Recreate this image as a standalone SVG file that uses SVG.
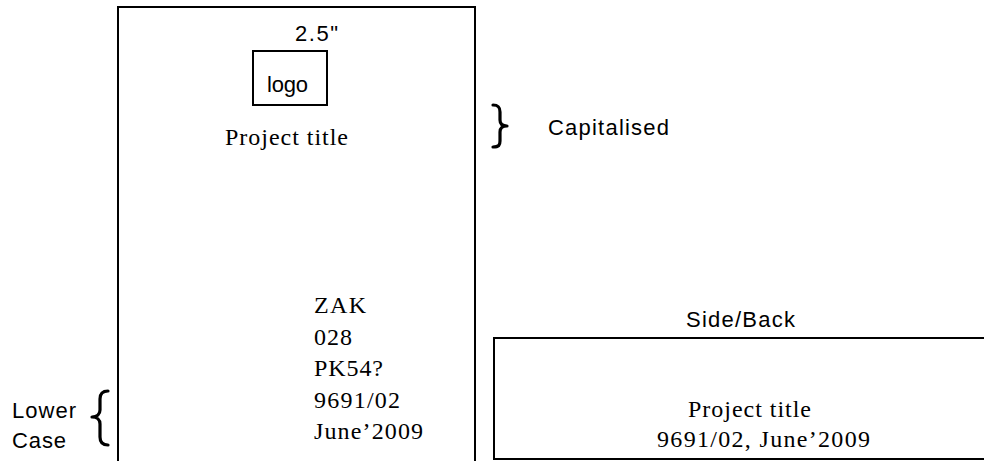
<svg xmlns="http://www.w3.org/2000/svg" width="984" height="461" viewBox="0 0 984 461">
<style>
.box{fill:none;stroke:#000;stroke-width:2}
.brace{fill:none;stroke:#000;stroke-width:3.2;stroke-linecap:round;stroke-linejoin:round}
.sans{font-family:"Liberation Sans",Arial,sans-serif;font-size:22px;fill:#000}
.serif{font-family:"Liberation Serif","Times New Roman",serif;font-size:24px;fill:#000}
</style>
<rect width="984" height="461" fill="#fff"/>
<g id="front">
<rect class="box" x="118" y="7" width="357" height="500"/>
<text class="sans" x="295" y="41" textLength="43" lengthAdjust="spacing">2.5"</text>
<text class="serif" x="225" y="145" textLength="123" lengthAdjust="spacing">Project title</text>
<text class="serif" x="314" y="313" textLength="52" lengthAdjust="spacing">ZAK</text>
<text class="serif" x="314" y="345" textLength="38" lengthAdjust="spacing">028</text>
<text class="serif" x="314" y="376" textLength="69" lengthAdjust="spacing">PK54?</text>
<text class="serif" x="314" y="408" textLength="86" lengthAdjust="spacing">9691/02</text>
<text class="serif" x="314" y="439" textLength="109" lengthAdjust="spacing">June’2009</text>
</g>
<g id="logo">
<rect class="box" x="253" y="51" width="74" height="54"/>
<text class="sans" x="267" y="92" textLength="41" lengthAdjust="spacing">logo</text>
</g>
<g id="capitalised">
<path class="brace" d="M493,105 C499,105 500,108 500,112 L500,120 C500,124 502,126 507,126 C502,126 500,128 500,132 L500,141 C500,145 499,147 493,147"/>
<text class="sans" x="548" y="135" textLength="121" lengthAdjust="spacing">Capitalised</text>
</g>
<g id="lowercase">
<path class="brace" d="M108,391 C102,391 100,394 100,399 L100,410 C100,414 97,417 92,417 C97,417 100,420 100,424 L100,437 C100,442 102,445 108,445"/>
<text class="sans" x="12" y="418" textLength="64" lengthAdjust="spacing">Lower</text>
<text class="sans" x="12" y="448" textLength="54" lengthAdjust="spacing">Case</text>
</g>
<g id="sideback">
<text class="sans" x="686" y="327" textLength="109" lengthAdjust="spacing">Side/Back</text>
<rect class="box" x="494" y="338" width="520" height="121"/>
<text class="serif" x="688" y="417" textLength="123" lengthAdjust="spacing">Project title</text>
<text class="serif" x="657" y="447" textLength="213" lengthAdjust="spacing">9691/02, June’2009</text>
</g>
<g id="connectors"/>
</svg>
